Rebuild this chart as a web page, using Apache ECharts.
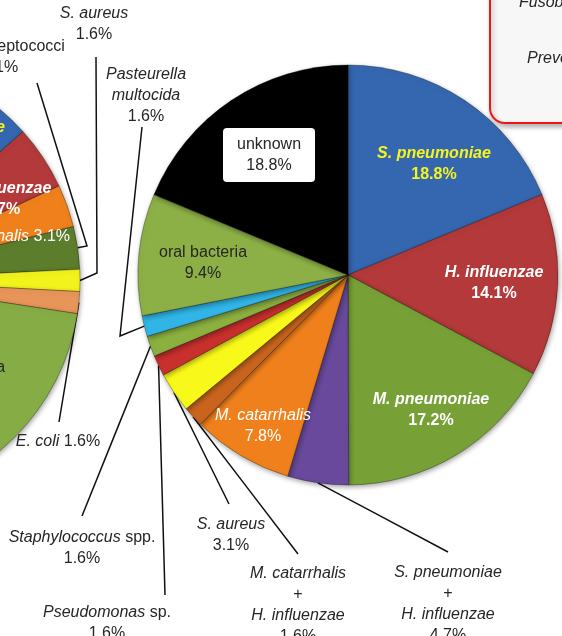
<!DOCTYPE html>
<html>
<head>
<meta charset="utf-8">
<title>pie</title>
<script src="https://cdn.jsdelivr.net/npm/echarts@6/dist/echarts.min.js"></script>
<style>
html, body { margin: 0; padding: 0; background: #fff; }
#main { width: 562px; height: 636px; }
</style>
</head>
<body>
<div id="main"></div>
<script>
// main pie, clockwise from 12 o'clock
var names = ['S. pneumoniae', 'H. influenzae', 'M. pneumoniae', 'S. pneumoniae + H. influenzae',
	'M. catarrhalis', 'M. catarrhalis + H. influenzae', 'S. aureus', 'Pseudomonas sp.',
	'Staphylococcus spp.', 'Pasteurella multocida', 'oral bacteria', 'unknown'];
var pct = [18.8, 14.1, 17.2, 4.7, 7.8, 1.6, 3.1, 1.6, 1.6, 1.6, 9.4, 18.8];

// left pie (only its right edge shows), clockwise
var leftNames = ['S. pneumoniae', 'H. influenzae', 'M. catarrhalis', 'Other streptococci',
	'S. aureus', 'E. coli', 'oral bacteria', 'M. pneumoniae', 'unknown'];
var leftPct = [12.5, 4.7, 3.1, 3.1, 1.6, 1.6, 20.3, 21.9, 31.2];

var colors = ['#3567B0', '#B3393A', '#77A136', '#68499B', '#F0801C', '#C8641E',
	'#F8F81A', '#C8302E', '#8BB040', '#30B5E6', '#8DB046', '#000000'];
var leftColors = ['#3567B0', '#B3393A', '#F0801C', '#5C7D2C', '#F2F21C', '#E8955A',
	'#86AD45', '#77A136', '#000000'];

// label kind: y yellow bold, w white bold, v white, k black, box = black on white box
var mainKind = ['y', 'w', 'w', 'k', 'v', 'k', 'k', 'k', 'k', 'k', 'k', 'box'];
var mainOut = [0, 0, 0, 1, 0, 1, 1, 1, 1, 1, 0, 0];
var leftKind = ['y', 'w', 'v', 'k', 'k', 'k', 'k', null, null];
var leftOut = [0, 0, 0, 1, 1, 1, 0, 0, 0];
var leftInline = [0, 0, 1, 0, 0, 1, 0, 0, 0];
var upright = ['oral bacteria', 'unknown', 'Other streptococci'];
var brokenName = ['Pasteurella multocida'];

// label anchors [x, y, align] and leader line bend/end points
var mainLabelAt = {
	0: [434, 164], 1: [494, 283], 2: [431, 410], 3: [448, 604], 4: [263, 426],
	5: [298, 605], 6: [231, 535], 7: [107, 623], 8: [82, 548], 9: [146, 96],
	10: [203, 263], 11: [269, 155]
};
var mainVia = {
	3: [[448, 552]], 5: [[298, 554]], 6: [[229, 504]], 7: [[165, 595]],
	8: [[82, 516]], 9: [[120, 336], [142, 127]]
};
var leftLabelAt = {
	0: [-52, 138, 'center'], 1: [2, 199, 'center'], 2: [70, 237, 'right'],
	3: [0, 57, 'center'], 4: [94, 24, 'center'], 5: [58, 442, 'center'], 6: [-39, 378, 'center']
};
var leftVia = {
	3: [[87, 246], [37, 83]], 4: [[97, 273], [96, 57]], 5: [[59, 422]]
};

var FONT = '"Liberation Sans", Arial, sans-serif';
function rs(color, bold, italic) {
	return {
		color: color, fontFamily: FONT, fontSize: 16, lineHeight: 21,
		fontWeight: bold ? 'bold' : 'normal', fontStyle: italic ? 'italic' : 'normal'
	};
}
var rich = {
	y: rs('#F5F51E', true, false), yi: rs('#F5F51E', true, true),
	w: rs('#fff', true, false), wi: rs('#fff', true, true),
	v: rs('#fff', false, false), vi: rs('#fff', false, true),
	k: rs('#262626', false, false), ki: rs('#262626', false, true),
	box: rs('#262626', false, false), boxi: rs('#262626', false, true)
};

function nameRich(name, key) {
	if (upright.indexOf(name) >= 0) return '{' + key + '|' + name + '}';
	if (brokenName.indexOf(name) >= 0) {
		return name.split(' ').map(function (w) { return '{' + key + 'i|' + w + '}'; }).join('\n');
	}
	var m = name.match(/^(.*?)( spp?\.)$/);
	if (m) return '{' + key + 'i|' + m[1] + '}{' + key + '|' + m[2] + '}';
	return '{' + key + 'i|' + name + '}';
}
function fmt(name, p, key, inline) {
	var parts = name.split(' + ');
	var lines = [];
	for (var i = 0; i < parts.length; i++) {
		if (i > 0) lines.push('{' + key + '|+}');
		lines.push(nameRich(parts[i], key));
	}
	var pctTxt = '{' + key + '|' + p.toFixed(1) + '%}';
	if (inline) return lines.join('\n') + '{' + key + '| }' + pctTxt;
	return lines.join('\n') + '\n' + pctTxt;
}

function buildData(nm, vals, cols, kinds, outs, inl) {
	return nm.map(function (n, i) {
		var k = kinds[i];
		var lab = { show: false };
		if (k) {
			lab = {
				show: true,
				position: outs[i] ? 'outside' : 'inside',
				formatter: fmt(n, vals[i], k, inl && inl[i]),
				rich: rich,
				width: k === 'box' ? 70 : 220,
				overflow: 'none'
			};
			if (k === 'box') {
				lab.backgroundColor = '#fff';
				lab.borderRadius = 4;
				lab.padding = [6, 11];
			}
		}
		return {
			name: n, value: vals[i],
			itemStyle: { color: cols[i] },
			label: lab,
			labelLine: { show: !!outs[i] }
		};
	});
}

function makeLayout(at, via) {
	return function (p) {
		var a = at[p.dataIndex];
		if (!a) return {};
		var out = { x: a[0], y: a[1], align: a[2] || 'center', verticalAlign: 'middle' };
		var v = via[p.dataIndex];
		if (v && p.labelLinePoints) {
			var pts = [p.labelLinePoints[0]].concat(v);
			if (pts.length === 2) {
				pts.splice(1, 0, [(pts[0][0] + pts[1][0]) / 2, (pts[0][1] + pts[1][1]) / 2]);
			}
			out.labelLinePoints = pts;
		}
		return out;
	};
}

var pieStyle = {
	borderColor: 'rgba(0,0,0,0.3)', borderWidth: 1,
	shadowBlur: 5, shadowColor: 'rgba(0,0,0,0.35)', shadowOffsetX: 1, shadowOffsetY: 2
};

var chart = echarts.init(document.getElementById('main'), null, { renderer: 'canvas' });

var option = {
	backgroundColor: '#fff',
	animation: false,
	series: [
		{
			name: 'left',
			type: 'pie',
			center: [-142, 280],
			radius: 222,
			startAngle: 87,
			clockwise: true,
			avoidLabelOverlap: false,
			emphasis: { disabled: true },
			itemStyle: pieStyle,
			labelLine: { lineStyle: { color: '#111', width: 1.5 } },
			labelLayout: makeLayout(leftLabelAt, leftVia),
			data: buildData(leftNames, leftPct, leftColors, leftKind, leftOut, leftInline)
		},
		{
			name: 'main',
			type: 'pie',
			center: [348, 275],
			radius: 210,
			startAngle: 90,
			clockwise: true,
			avoidLabelOverlap: false,
			emphasis: { disabled: true },
			itemStyle: pieStyle,
			labelLine: { lineStyle: { color: '#111', width: 1.5 } },
			labelLayout: makeLayout(mainLabelAt, mainVia),
			data: buildData(names, pct, colors, mainKind, mainOut, null)
		}
	],
	graphic: [
		{
			type: 'rect',
			shape: { x: 490, y: -30, width: 120, height: 153, r: 15 },
			style: {
				fill: '#F7F7F7', stroke: '#EE1515', lineWidth: 2,
				shadowBlur: 5, shadowColor: 'rgba(0,0,0,0.3)', shadowOffsetX: 2, shadowOffsetY: 3
			}
		},
		{
			type: 'text', x: 519, y: 3,
			style: { text: 'Fusobacterium', font: 'italic 16px "Liberation Sans"', fill: '#262626', verticalAlign: 'middle' }
		},
		{
			type: 'text', x: 527, y: 59,
			style: { text: 'Prevotella', font: 'italic 16px "Liberation Sans"', fill: '#262626', verticalAlign: 'middle' }
		}
	]
};

chart.setOption(option);
</script>
</body>
</html>
